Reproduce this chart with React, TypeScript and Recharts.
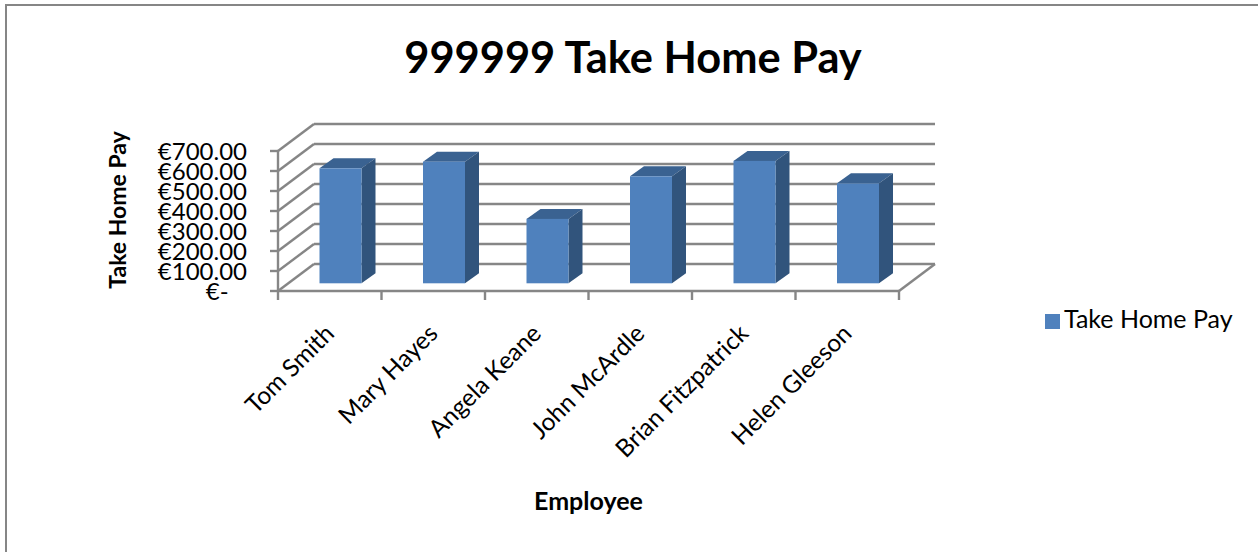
import { BarChart, Bar, XAxis, YAxis, CartesianGrid, Legend } from "recharts";

const employees = ["Tom Smith", "Mary Hayes", "Angela Keane", "John McArdle", "Brian Fitzpatrick", "Helen Gleeson"];
const takeHomePay = [575, 608, 322, 535, 612, 500];
const yTicks = [0, 100, 200, 300, 400, 500, 600, 700];
const yTickLabels = ["€-\u00a0\u00a0\u00a0", "€100.00", "€200.00", "€300.00", "€400.00", "€500.00", "€600.00", "€700.00"];

const data = employees.map((name, i) => ({ name, pay: takeHomePay[i] }));

const FONT = "Lato, 'Open Sans', sans-serif";
const GRID = "#868686";
// how far the back wall sits from the front plane
const DEPTH_X = 36;
const DEPTH_Y = 27;
// bars stand a bit behind the front edge of the floor
const BAR_X = 10.5;
const BAR_Y = 7.7;
const SIDE_X = 14;
const SIDE_Y = 10;
// width of one category on the x axis, the tick marks sit between categories
const SLOT = 103.5;

function Bar3D({ x, y, width, height }: any) {
  const l = x + BAR_X;
  const r = l + width;
  const t = y - BAR_Y;
  const b = t + height;
  return (
    <g>
      <polygon points={`${l},${t} ${r},${t} ${r + SIDE_X},${t - SIDE_Y} ${l + SIDE_X},${t - SIDE_Y}`} fill="#3a6291" />
      <polygon points={`${r},${t} ${r + SIDE_X},${t - SIDE_Y} ${r + SIDE_X},${b - SIDE_Y} ${r},${b}`} fill="#31547c" />
      <rect x={l} y={t} width={width} height={height} fill="#4f81bd" />
    </g>
  );
}

function WallLine({ x1, x2, y1, index }: any) {
  return (
    <g key={index} stroke={GRID} strokeWidth={2.4}>
      <line x1={x1} y1={y1} x2={x1 + DEPTH_X} y2={y1 - DEPTH_Y} />
      <line x1={x1 + DEPTH_X} y1={y1 - DEPTH_Y} x2={x2 + DEPTH_X} y2={y1 - DEPTH_Y} />
      {y1 > 280 ? <line x1={x2} y1={y1} x2={x2 + DEPTH_X} y2={y1 - DEPTH_Y} /> : null}
    </g>
  );
}

function EmployeeTick({ x, y, payload, index }: any) {
  const tx = x + 6;
  const ty = y + 44;
  return (
    <g>
      <line x1={x - SLOT / 2} y1={y} x2={x - SLOT / 2} y2={y + 9} stroke={GRID} strokeWidth={2.4} />
      {index === employees.length - 1 ? (
        <line x1={x + SLOT / 2} y1={y} x2={x + SLOT / 2} y2={y + 9} stroke={GRID} strokeWidth={2.4} />
      ) : null}
      <text x={tx} y={ty} textAnchor="end" transform={`rotate(-45 ${tx} ${ty})`} fontFamily={FONT} fontSize={24.5} fill="#000">
        {payload.value}
      </text>
    </g>
  );
}

export default function App() {
  return (
    <div style={{ position: "fixed", left: 0, top: 0, width: 1258, height: 552, overflow: "hidden", background: "#fff" }}>
      <div style={{ position: "absolute", left: 5, top: 4, width: 1400, height: 800, border: `2px solid ${GRID}` }} />
      <div
        style={{
          position: "absolute",
          left: 0,
          width: 1266,
          top: 29,
          textAlign: "center",
          fontFamily: FONT,
          fontWeight: 700,
          fontSize: 43.4,
          lineHeight: "54px",
          color: "#000",
        }}
      >
        999999 Take Home Pay
      </div>
      <div style={{ position: "absolute", left: 0, top: 0 }}>
        <BarChart width={1258} height={552} data={data} margin={{ top: 151, right: 149, bottom: 0, left: 0 }} barSize={42}>
          <CartesianGrid horizontal={(p: any) => <WallLine {...p} />} vertical={false} />
          <XAxis
            dataKey="name"
            height={261}
            interval={0}
            axisLine={{ stroke: GRID, strokeWidth: 2.4 }}
            tickLine={false}
            tickSize={0}
            tickMargin={0}
            tick={<EmployeeTick />}
            label={{
              value: "Employee",
              position: "insideBottom",
              offset: 42,
              style: { fontFamily: FONT, fontWeight: 700, fontSize: 25, fill: "#000" },
            }}
          />
          <YAxis
            width={278}
            domain={[0, 700]}
            ticks={yTicks}
            interval={0}
            tickSize={8}
            tickMargin={23}
            tickFormatter={(v: number) => yTickLabels[yTicks.indexOf(v)]}
            axisLine={{ stroke: GRID, strokeWidth: 2.4 }}
            tickLine={{ stroke: GRID, strokeWidth: 2.4 }}
            tick={{ fontFamily: FONT, fontSize: 24, fill: "#000" }}
            label={{
              value: "Take Home Pay",
              angle: -90,
              position: "insideLeft",
              offset: 118,
              dy: -11,
              style: { fontFamily: FONT, fontWeight: 700, fontSize: 23, fill: "#000", textAnchor: "middle" },
            }}
          />
          <Legend
            layout="vertical"
            align="right"
            verticalAlign="top"
            iconType="square"
            iconSize={15}
            wrapperStyle={{ left: 1045, top: 303, width: 210, right: "auto", fontFamily: FONT, fontSize: 25 }}
            formatter={(v: string) => <span style={{ color: "#000" }}>{v}</span>}
          />
          <Bar dataKey="pay" name="Take Home Pay" fill="#4f81bd" shape={<Bar3D />} isAnimationActive={false} />
        </BarChart>
      </div>
    </div>
  );
}
